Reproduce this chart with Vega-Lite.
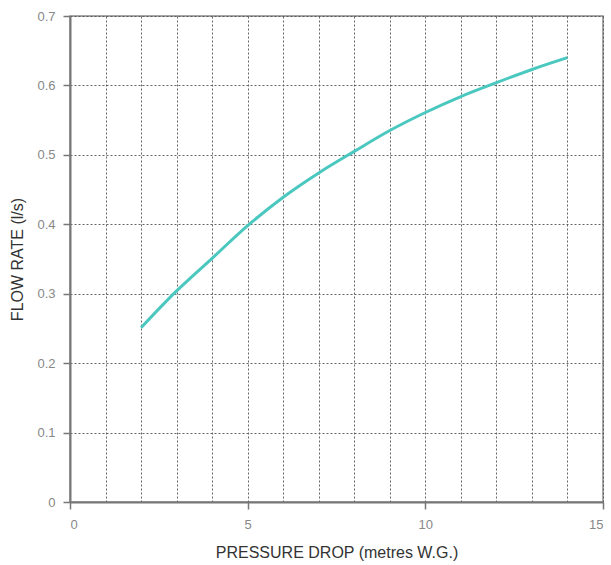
{
  "$schema": "https://vega.github.io/schema/vega-lite/v6.json",
  "autosize": "none",
  "width": 533,
  "height": 486,
  "padding": {"left": 70, "top": 16, "right": 8, "bottom": 63},
  "background": "white",
  "config": {
    "font": "Liberation Sans",
    "view": {"stroke": "#8a8a8a", "strokeWidth": 1.5},
    "axis": {
      "labelFont": "Liberation Sans",
      "titleFont": "Liberation Sans",
      "labelColor": "#888888",
      "labelFontSize": 13,
      "titleColor": "#333333",
      "titleFontSize": 16,
      "titleFontWeight": "normal",
      "domainColor": "#777777",
      "domainWidth": 2,
      "tickColor": "#777777",
      "tickSize": 7,
      "tickWidth": 1.5,
      "gridColor": "#555555",
      "gridDash": [2, 2],
      "gridWidth": 1,
      "gridOpacity": 0.9
    }
  },
  "data": {
    "values": [
      {"p": 2, "q": 0.251},
      {"p": 3, "q": 0.304},
      {"p": 4, "q": 0.351},
      {"p": 5, "q": 0.398},
      {"p": 6, "q": 0.439},
      {"p": 7, "q": 0.474},
      {"p": 8, "q": 0.505},
      {"p": 9, "q": 0.535},
      {"p": 10, "q": 0.561},
      {"p": 11, "q": 0.584},
      {"p": 12, "q": 0.604},
      {"p": 13, "q": 0.623},
      {"p": 14, "q": 0.640}
    ]
  },
  "mark": {"type": "line", "color": "#4ac8bf", "strokeWidth": 3, "interpolate": "monotone"},
  "encoding": {
    "x": {
      "field": "p",
      "type": "quantitative",
      "scale": {"domain": [0, 15], "nice": false},
      "title": "PRESSURE DROP (metres W.G.)",
      "axis": {
        "values": [0,1,2,3,4,5,6,7,8,9,10,11,12,13,14,15],
        "labelExpr": "datum.value % 5 === 0 ? datum.label : ''",
        "tickOpacity": {"condition": {"test": "datum.value % 5 === 0", "value": 1}, "value": 0},
        "labelPadding": 9,
        "titlePadding": 13
      }
    },
    "y": {
      "field": "q",
      "type": "quantitative",
      "scale": {"domain": [0, 0.7], "nice": false},
      "title": "FLOW RATE (l/s)",
      "axis": {
        "values": [0, 0.1, 0.2, 0.3, 0.4, 0.5, 0.6, 0.7],
        "format": ".1~f",
        "labelPadding": 8,
        "titlePadding": 11
      }
    }
  }
}
